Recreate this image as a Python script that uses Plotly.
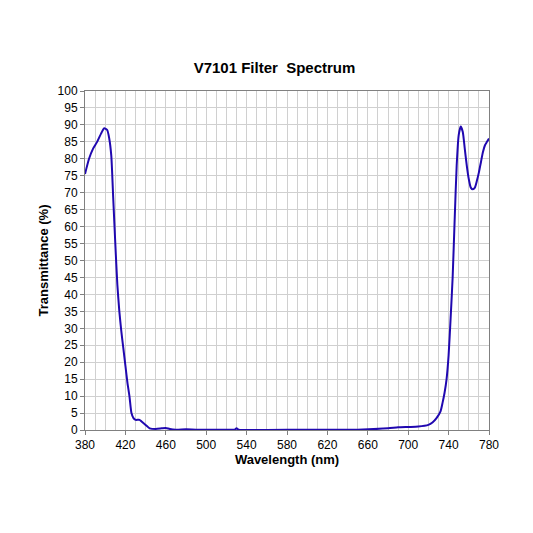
import plotly.graph_objects as go

wavelength = [380, 384, 388, 392, 396, 399, 402, 404, 406, 408, 410, 412, 414, 416, 418, 420,
              422, 424, 426, 428, 430, 434, 436, 440, 444, 450, 456, 460, 464, 470, 480, 490,
              500, 520, 528, 530, 532, 560, 600, 650, 680, 690, 700, 710, 720, 724, 728, 732,
              734, 736, 738, 740, 742, 744, 746, 748, 750, 752, 754, 756, 758, 760, 762, 764,
              766, 768, 770, 772, 774, 776, 778, 780]
transmittance = [75.5, 80, 83, 85, 87.5, 89, 88.5, 86, 81, 68, 55, 43, 35, 29, 24, 19,
                 14, 10, 5, 3.5, 3, 3, 2.5, 1.5, 0.5, 0.3, 0.5, 0.6, 0.3, 0.1, 0.2, 0.1,
                 0.1, 0.05, 0.1, 0.5, 0.1, 0, 0.1, 0.1, 0.5, 0.8, 0.9, 1.0, 1.5, 2.2, 3.5, 5.5,
                 8, 11, 15, 22, 33, 45, 62, 78, 87, 89.5, 88, 83, 78, 74, 71.5, 71,
                 71.5, 73.5, 76, 79, 82, 84, 85, 86]

fig = go.Figure()
fig.add_trace(go.Scatter(x=wavelength, y=transmittance, mode="lines",
                         line=dict(color="#2008b0", width=2, shape="spline", smoothing=0.6)))

fig.update_layout(
    width=533, height=533,
    margin=dict(l=77, r=52, t=83, b=111),
    paper_bgcolor="white", plot_bgcolor="white",
    font=dict(family="Liberation Sans, Arial", size=12, color="black"),
    title=dict(text="<b>V7101 Filter  Spectrum</b>", x=0.5, xanchor="center",
               y=1 - 60 / 533, yanchor="middle", font=dict(size=15)),
    showlegend=False,
)
fig.update_xaxes(range=[380, 780], dtick=40, tick0=380, showgrid=True, gridcolor="#d0d0d0",
                 minor=dict(dtick=10, showgrid=True, gridcolor="#d0d0d0"),
                 showline=True, linecolor="#808080", mirror=True, ticks="outside",
                 ticklen=4, tickcolor="#808080", zeroline=False,
                 title=dict(text="<b>Wavelength (nm)</b>", standoff=2, font=dict(size=13)))
fig.update_yaxes(range=[0, 100], dtick=5, showgrid=True, gridcolor="#d0d0d0",
                 showline=True, linecolor="#808080", mirror=True, ticks="outside",
                 ticklen=4, tickcolor="#808080", zeroline=False,
                 title=dict(text="<b>Transmittance (%)</b>", standoff=6, font=dict(size=13)))

fig.write_html("out.html")
